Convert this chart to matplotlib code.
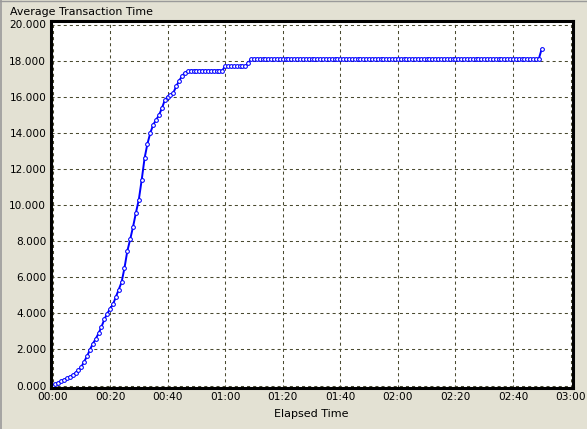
import numpy as np
import matplotlib
matplotlib.use("Agg")
import matplotlib.pyplot as plt
from matplotlib.lines import Line2D
from matplotlib.ticker import FuncFormatter

plt.rcParams['font.family'] = ['DejaVu Sans']
plt.rcParams['lines.scale_dashes'] = False

# Average transaction time (seconds), one sample per minute of elapsed time
rise_values = [0.00, 0.08, 0.15, 0.23, 0.32, 0.40, 0.49, 0.57, 0.70, 0.85,
               1.03, 1.32, 1.62, 1.98, 2.31, 2.58, 2.89, 3.24, 3.66, 3.98,
               4.25, 4.49, 4.90, 5.30, 5.72, 6.50, 7.45, 8.10, 8.80, 9.58,
               10.30, 11.40, 12.60, 13.40, 14.00, 14.45, 14.72, 14.98, 15.35, 15.80,
               16.00, 16.10, 16.22, 16.58, 16.88, 17.15, 17.32, 17.40]
plateau1_values = [17.45] * 12      # minutes 48-59
plateau2_values = [17.70] * 8       # minutes 60-67
step_values = [17.84]               # minute 68
plateau3_values = [18.10] * 101     # minutes 69-169
final_values = [18.65]              # minute 170

values = rise_values + plateau1_values + plateau2_values + step_values + plateau3_values + final_values
minutes = np.arange(len(values))   # elapsed minutes

x_ticks = [0, 20, 40, 60, 80, 100, 120, 140, 160, 180]
x_tick_labels = ["00:00", "00:20", "00:40", "01:00", "01:20", "01:40", "02:00", "02:20", "02:40", "03:00"]
y_ticks = [0, 2, 4, 6, 8, 10, 12, 14, 16, 18, 20]

W, H = 587, 429
bg = '#E3E1D3'
fig = plt.figure(figsize=(W / 100, H / 100), dpi=100, facecolor=bg)

left, right, top, bottom = 50.5, 572.7, 21.0, 388.3
ax = fig.add_axes([left / W, (H - bottom) / H, (right - left) / W, (bottom - top) / H])
ax.set_facecolor('white')

px_per_min = 518 / 180.0
px_per_unit = 361 / 20.0
ax.set_xlim(-2.0 / px_per_min, 180 + 2.2 / px_per_min)
ax.set_ylim(-2.8 / px_per_unit, 20 + 3.5 / px_per_unit)

ax.plot(minutes, values, color='#0000FF', linewidth=1.4, marker='o', markersize=2.7,
        markerfacecolor='white', markeredgecolor='#0000FF', markeredgewidth=0.75, zorder=3)

ax.set_xticks(x_ticks)
ax.set_xticklabels(x_tick_labels)
ax.set_yticks(y_ticks)
ax.yaxis.set_major_formatter(FuncFormatter(lambda v, p: f"{v:.3f}"))
ax.tick_params(length=0, labelsize=7.6, colors='black', pad=3)

ax.grid(True, color='#4A4A30', linewidth=0.75, linestyle=(0, (2.2, 2.2)))
ax.set_axisbelow(True)
for s in ax.spines.values():
    s.set_linewidth(2.2)
    s.set_color('black')
    s.set_zorder(4)

ax.set_xlabel("Elapsed Time", fontsize=8, labelpad=5)

fig.text(10 / W, 1 - 12 / H, "Average Transaction Time", fontsize=7.9, va='center', ha='left')

# window border
fig.add_artist(Line2D([0.5 / W, 0.5 / W], [0, 1], color='#9A9A9A', linewidth=1.2, transform=fig.transFigure))
fig.add_artist(Line2D([0, 1], [1 - 0.5 / H, 1 - 0.5 / H], color='#9A9A9A', linewidth=1.0, transform=fig.transFigure))

fig.savefig("out.png", dpi=100, facecolor=bg)
